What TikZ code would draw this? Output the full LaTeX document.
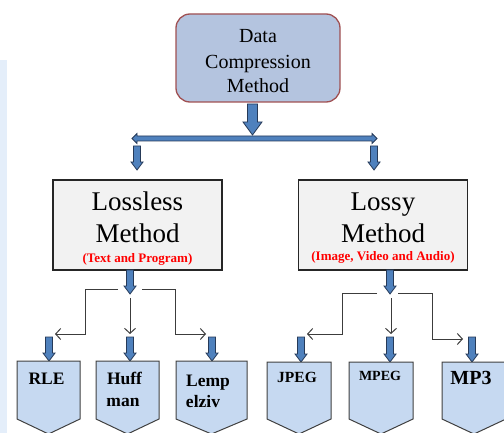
\documentclass[tikz,border=0pt]{standalone}
\usepackage{fontspec}
\setmainfont{Liberation Serif}
\usetikzlibrary{arrows.meta}

\definecolor{topfill}{RGB}{180,196,223}
\definecolor{topdraw}{RGB}{160,80,82}
\definecolor{midfill}{RGB}{242,242,242}
\definecolor{leaffill}{RGB}{198,217,241}
\definecolor{arrowfill}{RGB}{79,129,189}
\definecolor{arrowdraw}{RGB}{38,58,88}
\definecolor{lineclr}{RGB}{60,60,60}
\definecolor{edgeblue}{RGB}{228,238,250}

\tikzset{
  rootbox/.style={draw=topdraw, fill=topfill, line width=1.3pt, rounded corners=14pt,
    minimum width=164pt, minimum height=88pt, inner sep=0pt},
  methodbox/.style={draw=black!85, fill=midfill, line width=1.3pt,
    minimum width=169pt, minimum height=90pt, inner sep=0pt},
  blockarrow/.style={fill=arrowfill, draw=arrowdraw, line width=0.8pt, line join=miter},
  leafshape/.style={fill=leaffill, draw=black!75, line width=1pt},
  txt/.style={anchor=base, inner sep=0pt},
  bigtext/.style={txt, font=\fontsize{27}{32}\selectfont},
  roottext/.style={txt, font=\fontsize{20}{25}\selectfont},
  redtext/.style={txt, font=\bfseries\fontsize{13}{15}\selectfont, text=red},
  leaftext/.style={txt, font=\bfseries\fontsize{17.5}{23}\selectfont},
  branch/.style={draw=lineclr, line width=1pt},
  branchtip/.style={branch, -{Straight Barb[length=5pt,width=11pt,line width=1pt]}},
}

% downward block arrow: x, top, bottom, half shaft, half head, head length
\newcommand{\blockdown}[6]{%
  \filldraw[blockarrow] (#1-#4,#2) -- (#1+#4,#2) -- (#1+#4,#3-#6) -- (#1+#5,#3-#6)
    -- (#1,#3) -- (#1-#5,#3-#6) -- (#1-#4,#3-#6) -- cycle;}

% pentagon leaf: left, right, top
\newcommand{\leafbox}[3]{%
  \filldraw[leafshape] (#1,#3) -- (#2,#3) -- (#2,419) -- ({(#1+#2)/2},434) -- (#1,419) -- cycle;}

\begin{document}
\begin{tikzpicture}[x=1pt,y=-1pt]
  \useasboundingbox (0,0) rectangle (504,433);
  \clip (0,0) rectangle (504,433);
  \fill[edgeblue] (0,60) rectangle (7,433);

  % root
  \node[rootbox] (root) at (258,58) {};
  \node[roottext] (roottxt1) at (258,43) {Data};
  \node[roottext] (roottxt2) at (258,69) {Compression};
  \node[roottext] (roottxt3) at (258,93) {Method};
  \blockdown{252.5}{104}{135}{5}{9.5}{13}

  % distribution bar with two heads
  \filldraw[blockarrow] (137,136) -- (372,136) -- (372,133.5) -- (377,138.5) -- (372,143.5)
    -- (372,141) -- (137,141) -- (137,143.5) -- (132,138.5) -- (137,133.5) -- cycle;
  \blockdown{137}{146}{170}{3.5}{6}{8}
  \blockdown{374}{146}{170}{3.5}{6}{8}

  % second level
  \node[methodbox] (lossless) at (137.5,225) {};
  \node[bigtext] (lltxt1) at (137.5,211) {Lossless};
  \node[bigtext] (lltxt2) at (137.5,243) {Method};
  \node[redtext] (llsub) at (137.5,262) {(Text and Program)};

  \node[methodbox] (lossy) at (383,225) {};
  \node[bigtext] (lytxt1) at (383,211) {Lossy};
  \node[bigtext] (lytxt2) at (383,243) {Method};
  \node[redtext] (lysub) at (383,261) {(Image, Video and Audio)};

  \blockdown{130}{270}{294}{3.5}{6}{8}
  \blockdown{390}{270}{294}{3.5}{6}{8}

  % lossless branches
  \coordinate (llL0) at (118,289);
  \coordinate (llL1) at (85,289);
  \coordinate (llL2) at (85,334);
  \coordinate (llLend) at (55,334);
  \coordinate (llR0) at (142,289);
  \coordinate (llR1) at (175,289);
  \coordinate (llR2) at (175,334);
  \coordinate (llRend) at (206,334);
  \coordinate (llM0) at (130,298);
  \coordinate (llMend) at (130,334);
  \draw[branchtip] (llL0) -- (llL1) -- (llL2) -- (llLend);
  \draw[branchtip] (llR0) -- (llR1) -- (llR2) -- (llRend);
  \draw[branchtip] (llM0) -- (llMend);

  % lossy branches
  \coordinate (lyL0) at (377,293);
  \coordinate (lyL1) at (342,293);
  \coordinate (lyL2) at (342,334);
  \coordinate (lyLend) at (307,334);
  \coordinate (lyR0) at (398,293);
  \coordinate (lyR1) at (432,293);
  \coordinate (lyR2) at (432,339);
  \coordinate (lyRend) at (463,339);
  \coordinate (lyM0) at (391,298);
  \coordinate (lyMend) at (391,334);
  \draw[branchtip] (lyL0) -- (lyL1) -- (lyL2) -- (lyLend);
  \draw[branchtip] (lyR0) -- (lyR1) -- (lyR2) -- (lyRend);
  \draw[branchtip] (lyM0) -- (lyMend);

  % leaf arrows
  \blockdown{49}{337}{361}{3.5}{6}{8}
  \blockdown{130}{337}{361}{3.5}{6}{8}
  \blockdown{212}{337}{361}{3.5}{6}{8}
  \blockdown{301}{337}{362}{3.5}{6}{8}
  \blockdown{390}{337}{362}{3.5}{6}{8}
  \blockdown{472}{337}{362}{3.5}{6}{8}

  % leaves
  \leafbox{17}{80}{361}
  \leafbox{96}{159}{361}
  \leafbox{176}{247}{361}
  \leafbox{267}{331}{362}
  \leafbox{349}{413}{362}
  \leafbox{442}{506}{362}

  \node[leaftext] (rle) at (46.5,384) {RLE};
  \node[leaftext] (huff1) at (124.5,384) {Huff};
  \node[leaftext] (huff2) at (123,406) {man};
  \node[leaftext] (lemp1) at (208,386) {Lemp};
  \node[leaftext] (lemp2) at (203,407) {elziv};
  \node[leaftext, font=\bfseries\fontsize{15.5}{18}\selectfont] (jpeg) at (297,382) {JPEG};
  \node[leaftext, font=\bfseries\fontsize{14}{16}\selectfont] (mpeg) at (380,380) {MPEG};
  \node[leaftext, font=\bfseries\fontsize{20}{24}\selectfont] (mp3) at (471,384) {MP3};
\end{tikzpicture}
\end{document}
